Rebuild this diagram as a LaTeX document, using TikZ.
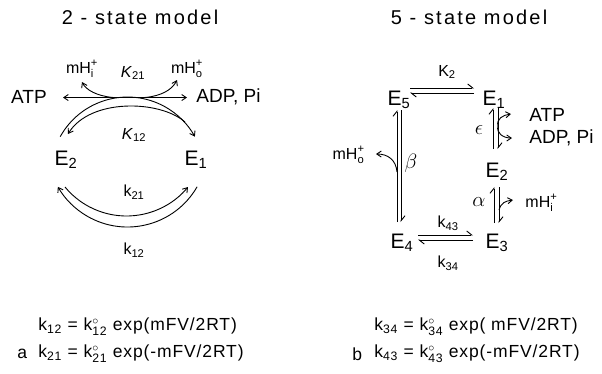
\documentclass[tikz,border=0pt]{standalone}
\usepackage{amsmath}
\usepackage{fontspec}
\setmainfont{Liberation Sans}
\usetikzlibrary{arrows.meta}
\newcommand\sbx[1]{$_{\text{#1}}$}
\begin{document}
\begin{tikzpicture}[x=1pt,y=1pt,line width=0.9pt,
  arr/.style={-{Straight Barb[length=4.5pt,width=6pt]}},
  darr/.style={{Straight Barb[length=4.5pt,width=6pt]}-{Straight Barb[length=4.5pt,width=6pt]}},
  harp/.style={-{Straight Barb[left,length=5pt,width=8pt]}},
  ttl/.style={inner sep=0pt,font=\fontsize{20}{22}\selectfont\addfontfeature{LetterSpace=11}},
  state/.style={inner sep=0pt,font=\fontsize{21}{24}\selectfont},
  big/.style={inner sep=0pt,font=\fontsize{19}{22}\selectfont},
  small/.style={inner sep=0pt,font=\fontsize{16}{18}\selectfont},
  rate/.style={inner sep=0pt,font=\fontsize{16}{18}\selectfont},
  grk/.style={inner sep=0pt,font=\fontsize{20}{22}\selectfont},
  eqn/.style={inner sep=0pt,anchor=west,font=\fontsize{17.5}{20}\selectfont\addfontfeature{LetterSpace=5}}]
\useasboundingbox (0,0) rectangle (602,-373);
% titles
\node[ttl] (t2) at (140,-17) {2 - state model};
\node[ttl] (t5) at (469,-17) {5 - state model};
% ---------- 2-state ----------
\node[state] (E2) at (66,-160) {E\sbx{2}};
\node[state] (E1) at (196,-160) {E\sbx{1}};
\node[big] (atp) at (29,-97) {ATP};
\node[big,anchor=west] (adp) at (196,-97) {ADP, Pi};
\coordinate (hl) at (63,-97.5);
\coordinate (hr) at (187,-97.5);
\draw[darr] (hl) -- (hr);
\coordinate (uo1) at (60.2,-136.7);
\draw[arr] (uo1) arc[start angle=151,end angle=29,radius=77];
\coordinate (ui1) at (185,-122);
\coordinate (ui2) at (68,-134);
\draw[arr] (ui1) .. controls (160,-100) and (90,-98) .. (ui2);
\coordinate (li1) at (65,-187);
\draw[arr] (li1) arc[start angle=219.5,end angle=320.5,radius=79.7];
\coordinate (lo1) at (197.1,-186.8);
\draw[arr] (lo1) arc[start angle=330,end angle=210,radius=80.4];
\coordinate (mi0) at (113,-97.5);
\coordinate (mi1) at (82,-82);
\draw[arr] (mi0) .. controls (97,-96) and (86,-90) .. (mi1);
\coordinate (mo0) at (145,-97.5);
\coordinate (mo1) at (177,-80);
\draw[arr] (mo0) .. controls (161,-96) and (172,-90) .. (mo1);
\node[small] (mhi) at (82,-69) {mH$^{\text{+}}_{\text{i}}$};
\node[small] (mho) at (187,-69) {mH$^{\text{+}}_{\text{o}}$};
\node[rate] (K21) at (133,-73) {\textit{K}\sbx{21}};
\node[rate] (K12) at (134,-135) {\textit{K}\sbx{12}};
\node[rate] (k21) at (134,-192) {k\sbx{21}};
\node[rate] (k12) at (134,-250) {k\sbx{12}};
% ---------- 5-state ----------
\node[state] (F5) at (399,-100) {E\sbx{5}};
\node[state] (F1) at (494,-100) {E\sbx{1}};
\node[state] (F2) at (497,-172) {E\sbx{2}};
\node[state] (F4) at (402,-243) {E\sbx{4}};
\node[state] (F3) at (497,-243) {E\sbx{3}};
\node[rate] (K2) at (447,-72) {K\sbx{2}};
\coordinate (a1) at (410,-88); \coordinate (a2) at (474,-88);
\coordinate (a3) at (474,-93); \coordinate (a4) at (410,-93);
\draw[harp] (a1) -- (a2); \draw[harp] (a3) -- (a4);
\coordinate (b1) at (397,-222); \coordinate (b2) at (397,-110);
\coordinate (b3) at (401,-110); \coordinate (b4) at (401,-222);
\draw[harp] (b1) -- (b2); \draw[harp] (b3) -- (b4);
\coordinate (m0) at (397,-172); \coordinate (m1) at (376,-154);
\draw[arr] (m0) .. controls (396,-160) and (388,-154) .. (m1);
\node[small,anchor=east] (mho5) at (365,-155) {mH$^{\text{+}}_{\text{o}}$};
\node[grk] (beta) at (411,-163) {$\beta$};
\coordinate (c1) at (493,-149); \coordinate (c2) at (493,-108);
\coordinate (c3) at (498,-108); \coordinate (c4) at (498,-149);
\draw[harp] (c1) -- (c2); \draw[harp] (c3) -- (c4);
\node[grk] (eps) at (479,-130) {$\epsilon$};
\coordinate (p0) at (498,-126);
\coordinate (p1) at (511,-114);
\coordinate (p2) at (512,-138);
\draw[arr] (p0) .. controls (496,-119) and (503,-115) .. (p1);
\draw[arr] (p0) .. controls (496,-133) and (503,-138) .. (p2);
\node[big,anchor=west] (atp5) at (529,-115) {ATP};
\node[big,anchor=west] (adp5) at (529,-138) {ADP, Pi};
\coordinate (d1) at (494,-223); \coordinate (d2) at (494,-187);
\coordinate (d3) at (499,-187); \coordinate (d4) at (499,-223);
\draw[harp] (d1) -- (d2); \draw[harp] (d3) -- (d4);
\node[grk] (alp) at (479,-202) {$\alpha$};
\coordinate (q0) at (499,-210); \coordinate (q1) at (513,-200);
\draw[arr] (q0) .. controls (501,-203) and (505,-201) .. (q1);
\node[small,anchor=west] (mhi5) at (525,-203) {mH$^{\text{+}}_{\text{i}}$};
\coordinate (e1) at (418,-235); \coordinate (e2) at (473,-235);
\coordinate (e3) at (473,-240); \coordinate (e4) at (418,-240);
\draw[harp] (e1) -- (e2); \draw[harp] (e3) -- (e4);
\node[rate] (k43) at (448,-223) {k\sbx{43}};
\node[rate] (k34) at (448,-263) {k\sbx{34}};
% ---------- equations ----------
\node[eqn] (eq1) at (38,-327) {k\sbx{12} = k$^{\circ}_{\text{12}}$ exp(mFV/2RT)};
\node[eqn] (eq2) at (38,-354) {k\sbx{21} = k$^{\circ}_{\text{21}}$ exp(-mFV/2RT)};
\node[eqn] (la) at (17,-354) {a};
\node[eqn] (eq3) at (374,-327) {k\sbx{34} = k$^{\circ}_{\text{34}}$ exp( mFV/2RT)};
\node[eqn] (eq4) at (374,-354) {k\sbx{43} = k$^{\circ}_{\text{43}}$ exp(-mFV/2RT)};
\node[eqn] (lb) at (352,-354) {b};
\end{tikzpicture}
\end{document}
